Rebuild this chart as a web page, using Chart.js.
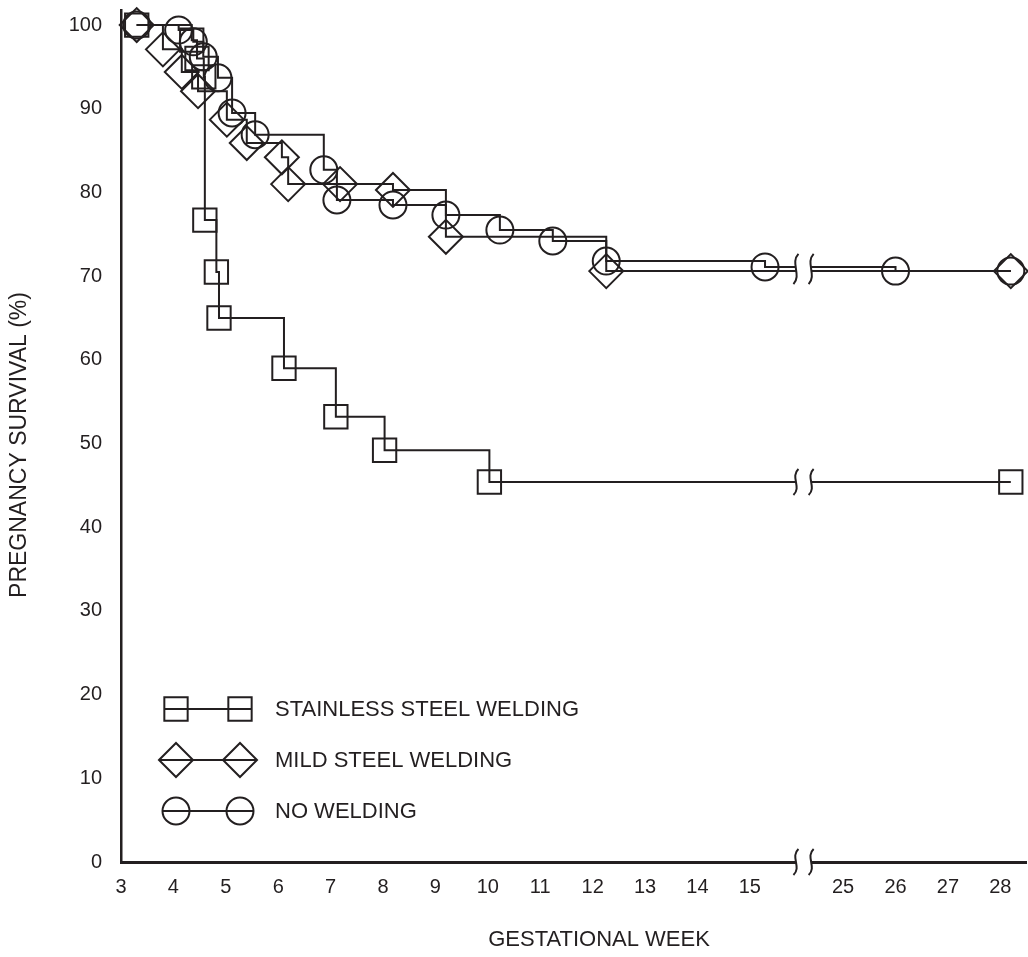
<!DOCTYPE html>
<html>
<head>
<meta charset="utf-8">
<style>
  html, body { margin: 0; padding: 0; background: #ffffff; }
  #wrap { width: 1028px; height: 957px; position: relative; }
</style>
<script src="https://cdn.jsdelivr.net/npm/chart.js@4/dist/chart.umd.min.js"></script>
</head>
<body>
<div id="wrap"><canvas id="survival"></canvas></div>
<script>
// Tick labels (the week axis is broken between 15 and 25)
const xTickWeeks = [3, 4, 5, 6, 7, 8, 9, 10, 11, 12, 13, 14, 15, 25, 26, 27, 28];
const yTickValues = [0, 10, 20, 30, 40, 50, 60, 70, 80, 90, 100];

const seriesNames = ['STAINLESS STEEL WELDING', 'MILD STEEL WELDING', 'NO WELDING'];
const xTitle = 'GESTATIONAL WEEK';
const yTitle = 'PREGNANCY SURVIVAL (%)';

// Kaplan-Meier style survival estimates (week, % of pregnancies surviving)
const stainlessWeeks    = [3.3, 4.35, 4.45, 4.58, 4.6, 4.82, 4.87, 6.11, 7.1, 8.03, 10.03, 28.2];
const stainlessSurvival = [100, 98.2, 96.0, 93.8, 76.7, 70.5, 65.0, 59.0, 53.2, 49.2, 45.4, 45.4];

const mildWeeks    = [3.3, 3.8, 4.16, 4.47, 5.02, 5.4, 6.07, 6.19, 7.18, 8.19, 9.2, 12.26, 28.2];
const mildSurvival = [100, 97.1, 94.4, 92.1, 88.7, 85.9, 84.2, 81.0, 81.0, 80.3, 74.7, 70.6, 70.6];

const noneWeeks    = [3.3, 4.1, 4.38, 4.57, 4.85, 5.12, 5.56, 6.87, 7.12, 8.19, 9.2, 10.23, 11.24, 12.26, 15.29, 26.0, 28.2];
const noneSurvival = [100, 99.4, 98.0, 96.2, 93.7, 89.5, 86.9, 82.7, 79.1, 78.5, 77.3, 75.5, 74.2, 71.8, 71.1, 70.6, 70.6];

// Axis break: weeks 25+ are pulled left so they sit just after the break
const BREAK_FROM = 15.88;
const BREAK_TO = 16.17;
const WEEK_SHIFT = 8.22;
function axisPos(week) { return week >= 25 ? week - WEEK_SHIFT : week; }

const INK = '#231f20';
const SANS = '"Liberation Sans", Arial, Helvetica, sans-serif';

function toPoints(weeks, values) {
  return weeks.map((w, i) => ({ x: axisPos(w), y: values[i] }));
}

function seriesDataset(label, weeks, values, style, radius) {
  return {
    label: label,
    data: toPoints(weeks, values),
    stepped: 'before',
    borderColor: INK,
    borderWidth: 2,
    fill: false,
    pointStyle: style,
    pointRadius: radius,
    pointHoverRadius: radius,
    pointBorderWidth: 2,
    pointBorderColor: INK,
    pointBackgroundColor: 'rgba(0,0,0,0)',
    clip: false
  };
}

// Little S-shaped break marks across the axis and across each line at the gap
const axisBreak = {
  id: 'axisBreak',
  afterDatasetsDraw(chart) {
    const { ctx, scales: { x, y } } = chart;
    const x1 = x.getPixelForValue(BREAK_FROM);
    const x2 = x.getPixelForValue(BREAK_TO);

    const levels = [];
    chart.data.datasets.forEach(ds => {
      let v = null;
      ds.data.forEach(p => { if (p.x <= BREAK_FROM) v = p.y; });
      if (v !== null) levels.push(y.getPixelForValue(v));
    });
    levels.sort((a, b) => a - b);
    const groups = [];
    levels.forEach(py => {
      const g = groups[groups.length - 1];
      if (g && py - g.hi < 14) g.hi = py; else groups.push({ lo: py, hi: py });
    });
    groups.push({ lo: y.bottom, hi: y.bottom, axis: true });

    const wave = (cx, cy, h) => {
      ctx.beginPath();
      ctx.moveTo(cx + 2.5, cy - h / 2);
      ctx.bezierCurveTo(cx - 6, cy - h / 5, cx + 6, cy + h / 5, cx - 2.5, cy + h / 2);
      ctx.stroke();
    };

    ctx.save();
    groups.forEach(g => {
      const pad = g.axis ? 3 : 2.5;
      ctx.fillStyle = '#ffffff';
      ctx.fillRect(x1, g.lo - pad, x2 - x1, g.hi - g.lo + 2 * pad);
      ctx.strokeStyle = INK;
      ctx.lineWidth = 2;
      const cy = (g.lo + g.hi) / 2;
      const h = 26 + (g.hi - g.lo);
      wave(x1, cy, h);
      wave(x2, cy, h);
    });
    ctx.restore();
  }
};

// Legend drawn as "marker — marker  LABEL" inside the plot, plus the axis titles
const pairLegend = {
  id: 'pairLegend',
  afterDraw(chart) {
    const { ctx, chartArea } = chart;
    const drawMarker = (style, r, cx, cy) => {
      ctx.beginPath();
      if (style === 'rect') {
        const s = r * Math.SQRT1_2;
        ctx.rect(cx - s, cy - s, 2 * s, 2 * s);
      } else if (style === 'rectRot') {
        ctx.moveTo(cx - r, cy); ctx.lineTo(cx, cy - r);
        ctx.lineTo(cx + r, cy); ctx.lineTo(cx, cy + r); ctx.closePath();
      } else {
        ctx.arc(cx, cy, r, 0, Math.PI * 2);
      }
      ctx.stroke();
    };
    chart.data.datasets.forEach((ds, i) => {
      const cy = chartArea.bottom - 153 + i * 51;
      const xa = chartArea.left + 55;
      const xb = chartArea.left + 119;
      const r = ds.pointRadius;
      const half = ds.pointStyle === 'rect' ? r * Math.SQRT1_2 : r;
      ctx.save();
      ctx.strokeStyle = INK;
      ctx.lineWidth = 2;
      ctx.beginPath();
      ctx.moveTo(xa - half, cy);
      ctx.lineTo(xb + half, cy);
      ctx.stroke();
      drawMarker(ds.pointStyle, r, xa, cy);
      drawMarker(ds.pointStyle, r, xb, cy);
      ctx.fillStyle = INK;
      ctx.font = '22px ' + SANS;
      ctx.textBaseline = 'middle';
      ctx.textAlign = 'left';
      ctx.fillText(ds.label, chartArea.left + 154, cy + 1);
      ctx.restore();
    });

    ctx.save();
    ctx.fillStyle = INK;
    ctx.font = '22px ' + SANS;
    ctx.textAlign = 'center';
    ctx.textBaseline = 'middle';
    ctx.fillText(xTitle, chartArea.left + 478, chart.height - 17);
    ctx.translate(20, chartArea.top + 435);
    ctx.rotate(-Math.PI / 2);
    ctx.font = '23px ' + SANS;
    ctx.fillText(yTitle, 0, 0);
    ctx.restore();
  }
};

new Chart(document.getElementById('survival'), {
  type: 'line',
  data: {
    datasets: [
      seriesDataset(seriesNames[0], stainlessWeeks, stainlessSurvival, 'rect', 16.5),
      seriesDataset(seriesNames[1], mildWeeks, mildSurvival, 'rectRot', 17),
      seriesDataset(seriesNames[2], noneWeeks, noneSurvival, 'circle', 13.5)
    ]
  },
  options: {
    responsive: true,
    maintainAspectRatio: false,
    animation: false,
    events: [],
    layout: { autoPadding: false, padding: { top: 10, right: 2, left: 0, bottom: 0 } },
    plugins: {
      legend: { display: false },
      tooltip: { enabled: false }
    },
    scales: {
      x: {
        type: 'linear',
        min: 3,
        max: 20.27,
        afterBuildTicks(scale) {
          scale.ticks = xTickWeeks.map(w => ({ value: axisPos(w) }));
        },
        afterFit(scale) {
          scale.height = 95;
          scale.paddingLeft = 0;
          scale.paddingRight = 0;
        },
        ticks: {
          autoSkip: false,
          maxRotation: 0,
          padding: 13,
          color: INK,
          font: { family: SANS, size: 20 },
          callback: (value, index) => String(xTickWeeks[index])
        },
        grid: { display: true, drawOnChartArea: false, drawTicks: false },
        border: { display: true, color: INK, width: 3 },
        title: { display: false }
      },
      y: {
        type: 'linear',
        min: 0,
        max: 101.8,
        afterBuildTicks(scale) {
          scale.ticks = yTickValues.map(v => ({ value: v }));
        },
        afterFit(scale) {
          scale.width = 121;
          scale.paddingTop = 0;
          scale.paddingBottom = 0;
        },
        ticks: {
          padding: 19,
          color: INK,
          font: { family: SANS, size: 20 },
          callback: (value) => String(value)
        },
        grid: { display: true, drawOnChartArea: false, drawTicks: false },
        border: { display: true, color: INK, width: 2.5 },
        title: { display: false }
      }
    }
  },
  plugins: [axisBreak, pairLegend]
});
</script>
</body>
</html>
